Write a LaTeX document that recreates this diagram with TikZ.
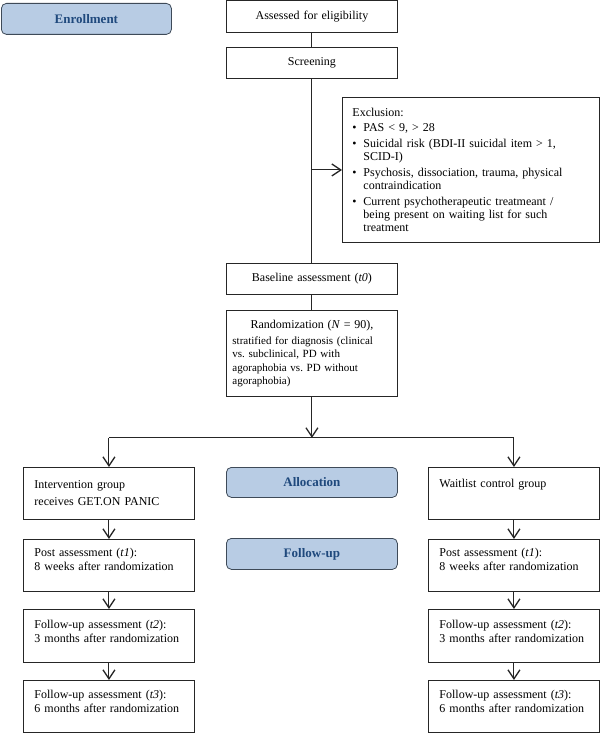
\documentclass[tikz,border=0pt]{standalone}
\usepackage{fontspec}
\setmainfont{Liberation Serif}
\usetikzlibrary{arrows.meta}
\definecolor{lblfill}{HTML}{B8CCE4}
\definecolor{lbltext}{HTML}{1F497D}
\definecolor{lbldraw}{HTML}{3E4A58}
\definecolor{boxline}{HTML}{262626}
\frenchspacing
\tikzset{
  box/.style={draw=boxline, line width=0.9pt, rectangle, anchor=north west,
    inner xsep=11pt, inner ysep=0pt, align=left, text width=149pt,
    font=\fontsize{12}{14}\selectfont},
  phase/.style={draw=lbldraw, fill=lblfill, rounded corners=5pt, line width=0.8pt,
    anchor=north west, text=lbltext, inner sep=0pt, minimum width=171pt,
    font=\fontsize{13}{15}\selectfont\bfseries},
  link/.style={draw=boxline, line width=1pt},
  arr/.style={link, -{Straight Barb[length=9pt,width=12pt,line width=1.3pt]}},
}
\newcommand{\bul}{\makebox[11pt][l]{•}}
\newcommand{\ind}{\hspace*{11pt}}
\begin{document}
\begin{tikzpicture}[x=1pt,y=-1pt]
\useasboundingbox (0,0) rectangle (600,733);

% phase labels
\node[phase, minimum width=170pt, minimum height=31pt] (enroll) at (1,3) {Enrollment};
\node[phase, minimum height=30pt] (alloc) at (226,467) {Allocation};
\node[phase, minimum height=31pt] (follow) at (226,538) {Follow-up};

% enrollment flow
\node[box, align=center, minimum height=31.5pt] (assess) at (226,0.5) {Assessed for eligibility};
\node[box, align=center, minimum height=31pt] (screen) at (226,47) {Screening};
\node[box, inner xsep=10pt, text width=237pt, minimum height=145pt, font=\fontsize{12}{13}\selectfont] (excl) at (342,97)
 {Exclusion:\\[2pt]
  \bul PAS < 9, > 28\\[3pt]
  \bul Suicidal risk (BDI-II suicidal item > 1,\\
  \ind SCID-I)\\[3pt]
  \bul Psychosis, dissociation, trauma, physical\\
  \ind contraindication\\[3pt]
  \bul Current psychotherapeutic treatmeant /\\
  \ind being present on waiting list for such\\
  \ind treatment};
\node[box, align=center, minimum height=31pt] (base) at (226,263) {Baseline assessment (\textit{t0})};
\node[box, inner xsep=6pt, text width=159pt, minimum height=86pt, font=\fontsize{11}{13.3}\selectfont] (rand) at (226,310)
 {\makebox[\linewidth][c]{\fontsize{12}{14}\selectfont Randomization (\textit{N} = 90),}\\[3pt]
  stratified for diagnosis (clinical\\
  vs. subclinical, PD with\\
  agoraphobia vs. PD without\\
  agoraphobia)};

% left column
\node[box, minimum height=52pt] (interv) at (23,467) {Intervention group\\[3pt] receives GET.ON PANIC};
\node[box, minimum height=52pt] (postL) at (23,539) {Post assessment (\textit{t1}):\\ 8 weeks after randomization\\[-1pt]\mbox{}};
\node[box, minimum height=53pt] (fuaL) at (23,609) {Follow-up assessment (\textit{t2}):\\ 3 months after randomization\\[-5pt]\mbox{}};
\node[box, minimum height=52pt] (fubL) at (23,680) {Follow-up assessment (\textit{t3}):\\ 6 months after randomization\\[-4pt]\mbox{}};

% right column
\node[box, minimum height=52pt] (wait) at (428,467) {Waitlist control group\\[6pt] \mbox{}};
\node[box, minimum height=52pt] (postR) at (428,539) {Post assessment (\textit{t1}):\\ 8 weeks after randomization\\[-1pt]\mbox{}};
\node[box, minimum height=53pt] (fuaR) at (428,609) {Follow-up assessment (\textit{t2}):\\ 3 months after randomization\\[-5pt]\mbox{}};
\node[box, minimum height=52pt] (fubR) at (428,680) {Follow-up assessment (\textit{t3}):\\ 6 months after randomization\\[-4pt]\mbox{}};

% connectors
\draw[link] (assess.south) -- (screen.north);
\draw[link] (screen.south) -- (base.north);
\draw[arr] (screen.south |- excl.west) -- (excl.west);
\draw[link] (base.south) -- (rand.north);
\path (rand.south) ++(0,41) coordinate (split);
\draw[arr] (rand.south) -- (split);
\coordinate (lsplit) at (interv.north |- split);
\coordinate (rsplit) at (wait.north |- split);
\draw[link] (lsplit) -- (rsplit);
\draw[arr] (lsplit) -- (interv.north);
\draw[arr] (rsplit) -- (wait.north);
\draw[arr] (interv) -- (postL);
\draw[arr] (postL) -- (fuaL);
\draw[arr] (fuaL) -- (fubL);
\draw[arr] (wait) -- (postR);
\draw[arr] (postR) -- (fuaR);
\draw[arr] (fuaR) -- (fubR);
\end{tikzpicture}
\end{document}
